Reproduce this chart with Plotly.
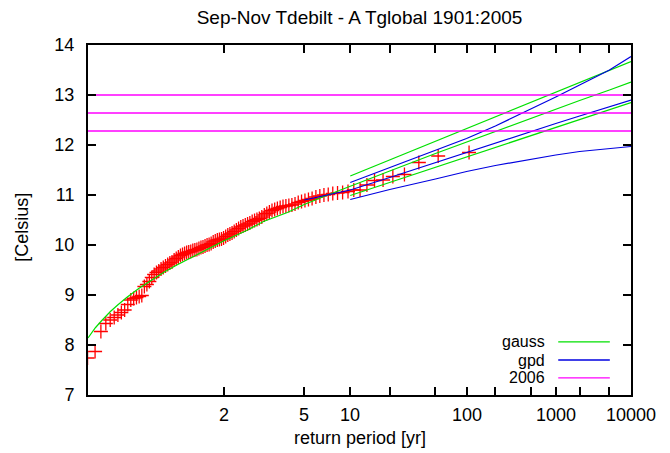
import numpy as np
import plotly.graph_objects as go

# ---------------- data ----------------
title_text = "Sep-Nov Tdebilt - A Tglobal 1901:2005"

# observed seasonal values 1901-2005, sorted ascending [Celsius]
obs_sorted = [
    7.74, 7.87, 8.27, 8.43, 8.50, 8.55, 8.60, 8.65, 8.70, 8.81,
    8.90, 8.93, 8.95, 8.97, 8.99, 9.17, 9.21, 9.27, 9.35, 9.41,
    9.45, 9.48, 9.52, 9.55, 9.58, 9.61, 9.64, 9.66, 9.70, 9.73,
    9.76, 9.79, 9.81, 9.83, 9.85, 9.86, 9.87, 9.89, 9.90, 9.91,
    9.93, 9.95, 9.96, 9.98, 10.00, 10.01, 10.03, 10.06, 10.08, 10.10,
    10.11, 10.12, 10.14, 10.17, 10.20, 10.22, 10.24, 10.27, 10.30, 10.33,
    10.36, 10.38, 10.40, 10.42, 10.44, 10.47, 10.49, 10.51, 10.53, 10.56,
    10.60, 10.63, 10.66, 10.69, 10.71, 10.73, 10.75, 10.77, 10.78, 10.79,
    10.80, 10.82, 10.85, 10.87, 10.89, 10.91, 10.93, 10.96, 10.98, 11.00,
    11.01, 11.03, 11.04, 11.05, 11.07, 11.10, 11.10, 11.20, 11.29, 11.30,
    11.37, 11.41, 11.65, 11.78, 11.85,
]

# gauss fit (central curve)
gauss_T = [1.01, 1.015, 1.02, 1.03, 1.05, 1.07, 1.1, 1.15, 1.2, 1.3, 1.4, 1.5,
           1.7, 2, 2.5, 3, 4, 5, 7, 10, 20, 50, 100, 200, 500, 1000, 2000,
           5000, 10000]
gauss_mid = [8.14, 8.26, 8.35, 8.48, 8.67, 8.80, 8.95, 9.13, 9.26, 9.46, 9.60,
             9.71, 9.89, 10.08, 10.29, 10.47, 10.65, 10.81, 11.00, 11.17, 11.48,
             11.83, 12.06, 12.27, 12.53, 12.72, 12.89, 13.10, 13.26]

# confidence bounds (from T = 10 yr)
ci_T = [10, 20, 50, 100, 200, 500, 1000, 2000, 5000, 10000]
gauss_hi = [11.38, 11.70, 12.08, 12.33, 12.56, 12.85, 13.06, 13.25, 13.49, 13.67]
gauss_lo = [10.99, 11.25, 11.55, 11.76, 11.95, 12.18, 12.35, 12.51, 12.70, 12.85]

# gpd fit
gpd_T = [5, 7, 10, 20, 50, 100, 200, 500, 1000, 2000, 5000, 10000]
gpd_mid = [10.90, 11.00, 11.10, 11.35, 11.65, 11.85, 12.03, 12.27, 12.43,
           12.58, 12.77, 12.90]
gpd_hi = [11.25, 11.55, 11.89, 12.13, 12.38, 12.71, 12.96, 13.20, 13.50, 13.77]
gpd_lo = [10.91, 11.11, 11.32, 11.47, 11.59, 11.72, 11.80, 11.87, 11.93, 11.97]

# 2006 value with its bounds
obs2006 = [13.00, 12.64, 12.28]

tick_T = [2, 5, 10, 20, 50, 100, 200, 500, 1000, 2000, 5000, 10000]
tick_text = ["2", "5", "10", "", "", "100", "", "", "1000", "", "", "10000"]
x_range_T = [1.01, 10000]
y_range = [7, 14]

# ---------------- helpers ----------------
n = len(obs_sorted)
rank = np.arange(1, n + 1)
obs_T = (n + 1) / (n + 1 - rank)   # plotting position of sorted values


def scale(T):
    """return-period axis: sqrt(ln T)"""
    return np.sqrt(np.log(np.asarray(T, dtype=float)))


GREEN = "#00e000"
BLUE = "#0000e0"
MAGENTA = "#ff00ff"
RED = "#ff0000"
FONT = "Liberation Sans, Arial, Helvetica, sans-serif"
FS = 18

fig = go.Figure()

fig.add_trace(go.Scatter(
    x=scale(obs_T), y=obs_sorted, mode="markers",
    marker=dict(symbol="cross-thin", size=10, color=RED,
                line=dict(width=1.3, color=RED)),
    hoverinfo="skip"))

for yy, TT in [(gauss_mid, gauss_T), (gauss_hi, ci_T), (gauss_lo, ci_T)]:
    fig.add_trace(go.Scatter(x=scale(TT), y=yy, mode="lines",
                             line=dict(color=GREEN, width=1.2)))

for yy, TT in [(gpd_mid, gpd_T), (gpd_hi, ci_T), (gpd_lo, ci_T)]:
    fig.add_trace(go.Scatter(x=scale(TT), y=yy, mode="lines",
                             line=dict(color=BLUE, width=1.2)))

for v in obs2006:
    fig.add_trace(go.Scatter(x=scale(x_range_T), y=[v, v], mode="lines",
                             line=dict(color=MAGENTA, width=1.3)))

# ---------------- gnuplot-like legend (text left, sample right) ----------------
legend_items = [("gauss", GREEN), ("gpd", BLUE), ("2006", MAGENTA)]
leg_y = [0.152, 0.100, 0.049]
for (lab, col), yy in zip(legend_items, leg_y):
    fig.add_annotation(x=0.845, y=yy, xref="paper", yref="paper", text=lab,
                       showarrow=False, xanchor="right", yanchor="middle",
                       font=dict(family=FONT, size=16, color="black"))
    fig.add_shape(type="line", xref="paper", yref="paper",
                  x0=0.866, x1=0.961, y0=yy, y1=yy,
                  line=dict(color=col, width=1.3))

# x tick labels, centred under their ticks
for tv, tt in zip(scale(tick_T), tick_text):
    if tt:
        fig.add_annotation(x=float(tv), y=-0.057, xref="x", yref="paper",
                           text=tt, showarrow=False, xanchor="center",
                           yanchor="middle",
                           font=dict(family=FONT, size=FS, color="black"))

# axis titles
fig.add_annotation(x=0.5, y=-0.123, xref="paper", yref="paper",
                   text="return period [yr]", showarrow=False,
                   xanchor="center", yanchor="middle",
                   font=dict(family=FONT, size=FS, color="black"))
fig.add_annotation(x=-0.122, y=0.48, xref="paper", yref="paper",
                   text="[Celsius]", showarrow=False, textangle=-90,
                   xanchor="center", yanchor="middle",
                   font=dict(family=FONT, size=FS, color="black"))

axis_common = dict(showline=True, linewidth=2, linecolor="black",
                   mirror="ticks", ticks="inside", ticklen=8, tickwidth=1.5,
                   tickcolor="black", showgrid=False, zeroline=False,
                   tickfont=dict(family=FONT, size=FS, color="black"))

# the page body has an 8px default margin; compensate so the plot lands
# on the same pixels as the reference (plot area 88..631 x 45..395)
W, H = 662, 445
fig.update_layout(
    width=W, height=H,
    margin=dict(l=80, r=39, t=37, b=58),
    paper_bgcolor="white", plot_bgcolor="white",
    showlegend=False,
    font=dict(family=FONT, size=FS, color="black"),
    title=dict(text=title_text, x=0.5, xref="paper", xanchor="center",
               y=1 - 9 / H, yref="container", yanchor="middle",
               font=dict(family=FONT, size=19, color="black")),
    xaxis=dict(range=list(scale(x_range_T)), tickmode="array",
               tickvals=list(scale(tick_T)), showticklabels=False,
               **axis_common),
    yaxis=dict(range=y_range, dtick=1, tick0=7, ticklabelstandoff=8,
               **axis_common),
)

fig.write_html("out.html", config={"displayModeBar": False})
